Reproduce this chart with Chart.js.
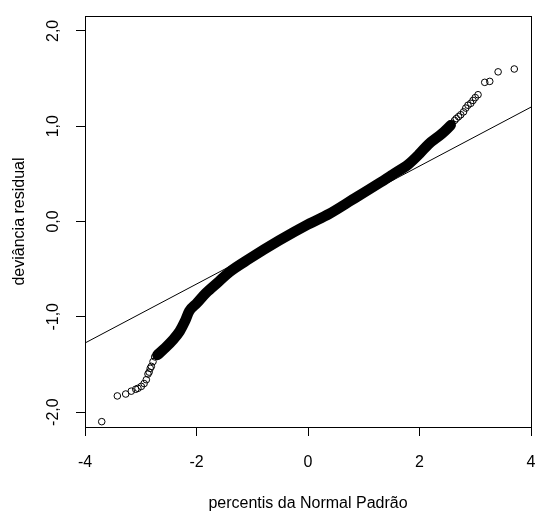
<!DOCTYPE html>
<html>
<head>
<meta charset="utf-8">
<script src="https://cdn.jsdelivr.net/npm/chart.js@4.4.1/dist/chart.umd.min.js"></script>
<style>
  html, body { margin: 0; padding: 0; background: #fff; }
  canvas { display: block; }
</style>
</head>
<body>
<canvas id="qqChart" width="536" height="514"></canvas>
<script>
// ticks
const xTicks = [-4, -2, 0, 2, 4];
const yTicks = [-2, -1, 0, 1, 2];

// sparse circles in the tails
const tailX = [-3.70, -3.42, -3.27, -3.17, -3.09, -3.05, -2.99, -2.94, -2.90, -2.87, -2.85, -2.83, -2.81, -2.78, -2.75, -2.72,
               2.45, 2.52, 2.58, 2.63, 2.66, 2.70, 2.74, 2.79, 2.83, 2.87, 2.92, 2.96, 3.00, 3.05, 3.17, 3.26, 3.41, 3.70];
const tailY = [-2.10, -1.83, -1.81, -1.78, -1.76, -1.75, -1.73, -1.70, -1.66, -1.60, -1.58, -1.54, -1.52, -1.47, -1.42, -1.40,
               0.95, 0.99, 1.03, 1.06, 1.08, 1.10, 1.12, 1.15, 1.19, 1.22, 1.24, 1.27, 1.30, 1.33, 1.46, 1.47, 1.57, 1.60];

// dense band of overlapping circles (centre line)
const bandX = [-2.70, -2.57, -2.42, -2.30, -2.21, -2.13, -2.00, -1.83, -1.60, -1.41, -1.05, -0.52, 0.00, 0.38, 0.80, 1.27, 1.51, 1.80, 2.00, 2.16, 2.40, 2.56];
const bandY = [-1.40, -1.33, -1.24, -1.15, -1.05, -0.94, -0.86, -0.75, -0.63, -0.53, -0.39, -0.20, -0.03, 0.08, 0.23, 0.40, 0.49, 0.60, 0.71, 0.81, 0.92, 1.01];

// qqline ends
const refX = [-4, 4];
const refY = [-1.275, 1.20];

const FONT = "'Liberation Sans', Arial, sans-serif";

const boxPlugin = {
    id: 'box',
    afterDraw(chart) {
        const a = chart.chartArea, ctx = chart.ctx;
        ctx.save();
        ctx.strokeStyle = '#000';
        ctx.lineWidth = 1;
        ctx.strokeRect(Math.round(a.left) + 0.5, Math.round(a.top) + 0.5, Math.round(a.right - a.left), Math.round(a.bottom - a.top));
        ctx.restore();
    }
};

const toPts = (xs, ys) => xs.map((x, i) => ({ x: x, y: ys[i] }));

new Chart(document.getElementById('qqChart'), {
    type: 'scatter',
    data: {
        datasets: [
            {
                type: 'line',
                data: toPts(bandX, bandY),
                borderColor: '#000',
                borderWidth: 10.5,
                borderCapStyle: 'round',
                borderJoinStyle: 'round',
                cubicInterpolationMode: 'monotone',
                pointRadius: 0,
                fill: false
            },
            {
                data: toPts(tailX, tailY),
                pointStyle: 'circle',
                pointRadius: 3.3,
                borderWidth: 1,
                borderColor: '#000',
                backgroundColor: 'rgba(0,0,0,0)'
            },
            {
                type: 'line',
                data: toPts(refX, refY),
                borderColor: '#000',
                borderWidth: 1,
                pointRadius: 0,
                fill: false
            }
        ]
    },
    options: {
        responsive: false,
        animation: false,
        layout: { padding: { left: 0, top: 16, right: 4, bottom: 0 } },
        plugins: { legend: { display: false }, tooltip: { enabled: false } },
        scales: {
            x: {
                type: 'linear', position: 'bottom', min: -4, max: 4,
                afterBuildTicks: s => { s.ticks = xTicks.map(v => ({ value: v })); },
                afterFit: s => { s.height = 87; s.paddingLeft = 0; s.paddingRight = 0; },
                grid: { display: true, drawOnChartArea: false, drawTicks: true, tickLength: 9, color: '#000' },
                border: { display: false },
                ticks: { color: '#000', font: { family: FONT, size: 16 }, padding: 17, maxRotation: 0,
                         callback: v => String(v) },
                title: { display: true, text: 'percentis da Normal Padrão', color: '#000',
                         font: { family: FONT, size: 16 }, padding: { top: 0, bottom: 1 } }
            },
            y: {
                type: 'linear', position: 'left', min: -2.156, max: 2.156,
                afterBuildTicks: s => { s.ticks = yTicks.map(v => ({ value: v })); },
                afterFit: s => { s.width = 85; s.paddingTop = 0; s.paddingBottom = 0; },
                grid: { display: true, drawOnChartArea: false, drawTicks: true, tickLength: 9, color: '#000' },
                border: { display: false },
                ticks: { color: '#000', font: { family: FONT, size: 16 }, padding: 9, minRotation: 90, maxRotation: 90,
                         crossAlign: 'center',
                         callback: v => v.toFixed(1).replace('.', ',') },
                title: { display: true, text: 'deviância residual', color: '#000',
                         font: { family: FONT, size: 16 }, padding: { top: 10, bottom: 0 } }
            }
        }
    },
    plugins: [boxPlugin]
});
</script>
</body>
</html>
